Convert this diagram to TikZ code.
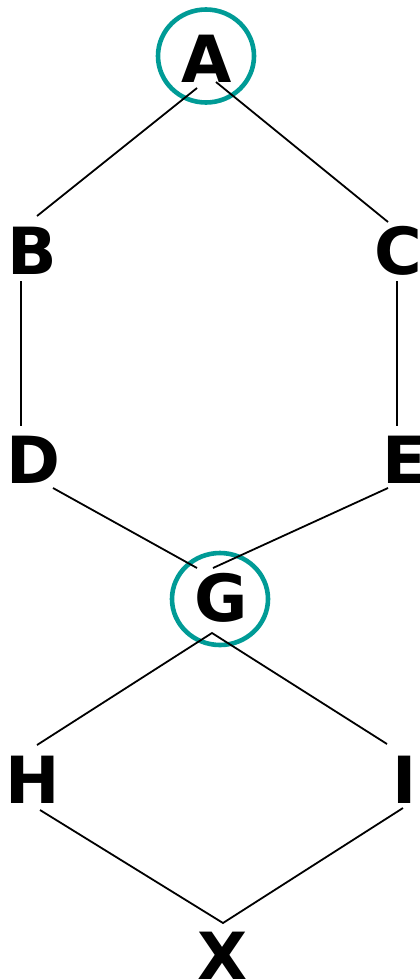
\documentclass[tikz,border=0pt]{standalone}
\usepackage{fontspec}
\setmainfont{DejaVu Sans}
\begin{document}
\begin{tikzpicture}[x=1pt,y=-1pt,
  letter/.style={inner sep=0pt,anchor=base,font=\fontsize{65}{78}\selectfont\bfseries},
  ring/.style={draw={rgb,255:red,0;green,155;blue,150},line width=4.6pt},
  edge/.style={draw=black,line width=1.8pt}]
\useasboundingbox (0,0) rectangle (420,980);

% highlighted vertices
\draw[ring] (206,56) ellipse [x radius=48,y radius=46.5];
\draw[ring] (220,599) ellipse [x radius=48,y radius=46];

% vertex labels
\node[letter] (A) at (206.5,82) {A};
\node[letter] (B) at (32,274) {B};
\node[letter] (C) at (398,274) {C};
\node[letter] (D) at (33.5,483) {D};
\node[letter] (E) at (404.5,483) {E};
\node[letter] (G) at (221,621) {G};
\node[letter] (H) at (33,803) {H};
\node[letter] (I) at (404.5,803) {I};
\node[letter] (X) at (223,979) {X};

% end points of the edges
\coordinate (aL) at (197,88);
\coordinate (aR) at (216,82);
\coordinate (bT) at (37,216);
\coordinate (bB) at (21,281);
\coordinate (cT) at (388,222);
\coordinate (cB) at (397,281);
\coordinate (dT) at (21,426);
\coordinate (dB) at (53,488);
\coordinate (eT) at (397,426);
\coordinate (eB) at (388,488);
\coordinate (gL) at (197,568);
\coordinate (gR) at (213,568);
\coordinate (gB) at (212,633);
\coordinate (hT) at (37,745);
\coordinate (hB) at (40,810);
\coordinate (iT) at (387,744);
\coordinate (iB) at (403,808);
\coordinate (xT) at (223,923);

% edges
\draw[edge] (aL) -- (bT);
\draw[edge] (aR) -- (cT);
\draw[edge] (bB) -- (dT);
\draw[edge] (cB) -- (eT);
\draw[edge] (dB) -- (gL);
\draw[edge] (eB) -- (gR);
\draw[edge] (hT) -- (gB) -- (iT);
\draw[edge] (hB) -- (xT) -- (iB);
\end{tikzpicture}
\end{document}
